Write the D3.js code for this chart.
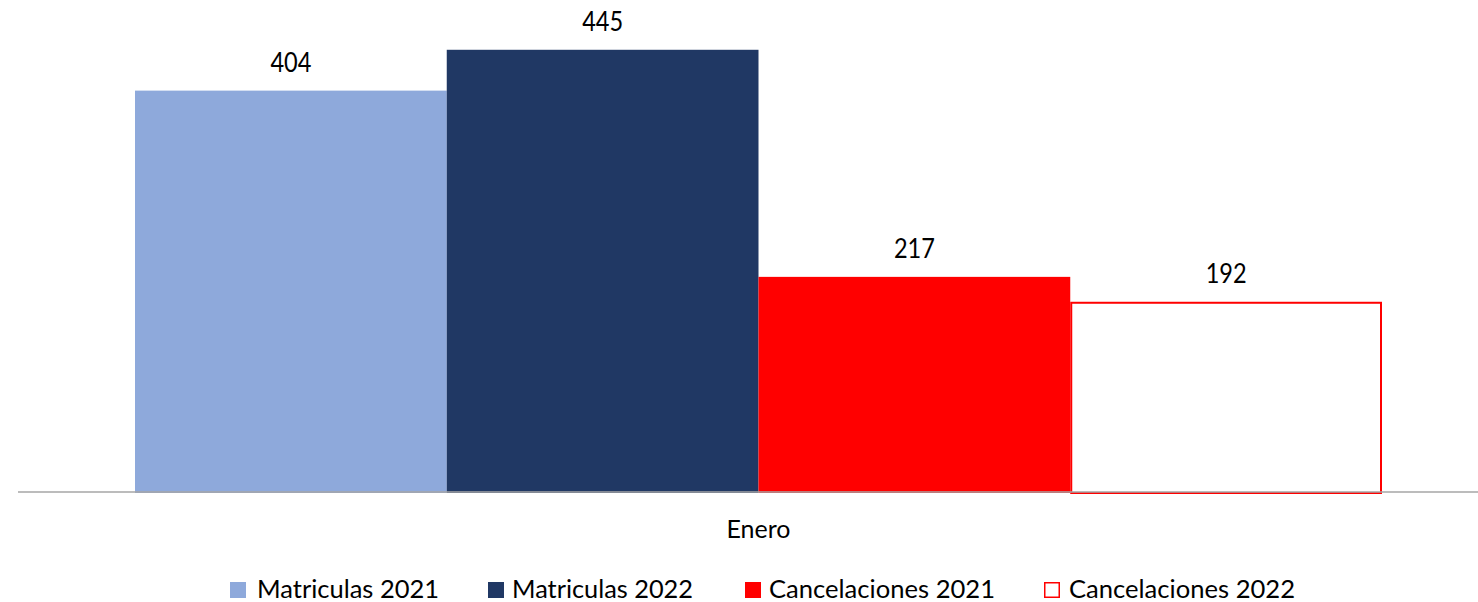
<!DOCTYPE html>
<html>
<head>
<meta charset="utf-8">
<script src="https://cdn.jsdelivr.net/npm/d3@7"></script>
<style>
  html, body { margin: 0; padding: 0; background: #fff; }
  svg { display: block; }
  text { font-family: Lato, "Open Sans", sans-serif; fill: #000; }
</style>
</head>
<body>
<svg id="chart" width="1478" height="602"></svg>
<script>
const categories = ["Enero"];
const seriesNames = ["Matriculas 2021", "Matriculas 2022", "Cancelaciones 2021", "Cancelaciones 2022"];
const seriesValues = [[404], [445], [217], [192]];
const seriesFill = ["#8EA9DB", "#203864", "#FF0000", "#FFFFFF"];
const seriesStroke = ["none", "none", "none", "#FF0000"];

const W = 1478, H = 602;
const svg = d3.select("#chart");

const x0 = d3.scaleBand().domain(categories).range([135, 1382]).padding(0);
const x1 = d3.scaleBand().domain(seriesNames).range([0, x0.bandwidth()]).padding(0);
const y = d3.scaleLinear().domain([0, 500]).range([493, -5]);

const g = svg.append("g");

categories.forEach((cat, ci) => {
  seriesNames.forEach((s, si) => {
    const v = seriesValues[si][ci];
    const bx = x0(cat) + x1(s);
    const sw = seriesStroke[si] === "none" ? 0 : 2;
    g.append("rect")
      .attr("x", bx + sw / 2)
      .attr("y", y(v) + sw / 2)
      .attr("width", x1.bandwidth() - sw)
      .attr("height", y(0) - y(v) - sw / 2)
      .attr("fill", seriesFill[si])
      .attr("stroke", seriesStroke[si])
      .attr("stroke-width", sw);
    g.append("text")
      .attr("x", bx + x1.bandwidth() / 2)
      .attr("y", y(v) - 19)
      .attr("text-anchor", "middle")
      .style("font-size", "26px")
      .attr("textLength", 41)
      .attr("lengthAdjust", "spacingAndGlyphs")
      .text(v);
  });
});

// axis
const xAxis = d3.axisBottom(x0).tickSize(0).tickPadding(0);
const ax = svg.append("g").attr("transform", `translate(0,${y(0) - 1})`).call(xAxis);
ax.select(".domain").remove();
ax.selectAll("text")
  .attr("dy", 0).attr("y", 46)
  .attr("textLength", 64).attr("lengthAdjust", "spacingAndGlyphs")
  .style("font-size", "25px")
  .style("font-family", "Lato, 'Open Sans', sans-serif")
  .attr("fill", "#000");
svg.append("line")
  .attr("x1", 18).attr("x2", W)
  .attr("y1", y(0) - 1).attr("y2", y(0) - 1)
  .attr("stroke", "#A6A6A6").attr("stroke-width", 1.5);

// legend
const legendX = [230, 488, 745, 1044];
const legendTextX = [257, 512, 769, 1069];
const legendTextW = [182, 181, 226, 226];
const lg = svg.append("g");
seriesNames.forEach((s, i) => {
  const sw = seriesStroke[i] === "none" ? 0 : 1.5;
  lg.append("rect")
    .attr("x", legendX[i] + sw / 2).attr("y", 582 + sw / 2)
    .attr("width", 16 - sw).attr("height", 16 - sw)
    .attr("fill", seriesFill[i])
    .attr("stroke", seriesStroke[i])
    .attr("stroke-width", sw);
  lg.append("text")
    .attr("x", legendTextX[i]).attr("y", 598)
    .style("font-size", "25px")
    .attr("textLength", legendTextW[i])
    .attr("lengthAdjust", "spacingAndGlyphs")
    .text(s);
});
</script>
</body>
</html>
